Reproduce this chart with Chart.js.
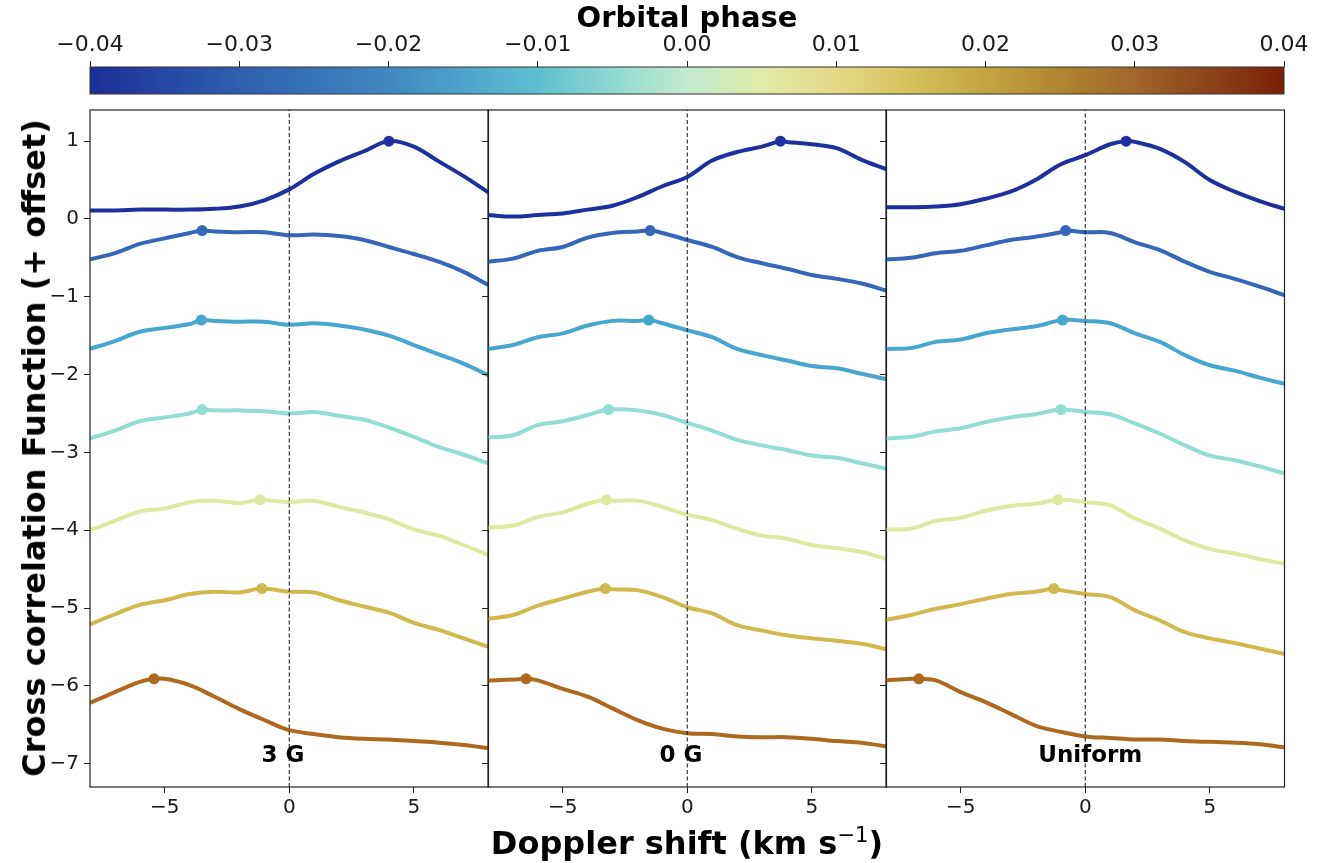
<!DOCTYPE html>
<html>
<head>
<meta charset="utf-8">
<script src="https://cdn.jsdelivr.net/npm/chart.js@4.4.1/dist/chart.umd.min.js"></script>
<style>
  body { margin: 0; background: #fff; width: 1322px; height: 863px; overflow: hidden; position: relative; font-family: "DejaVu Sans", sans-serif; }
  canvas { position: absolute; }
  .title { position: absolute; font-weight: bold; font-size: 32px; color: #000; white-space: nowrap; transform: translate(-50%, -50%); }
  #ytitle { left: 34px; top: 448px; transform: translate(-50%, -50%) rotate(-90deg); }
  #xtitle { left: 687px; top: 842px; }
  sup { font-size: 0.66em; font-weight: normal; vertical-align: 0.55em; }
</style>
</head>
<body>
<canvas id="cbar" width="1322" height="100" style="left:0;top:0"></canvas>
<canvas id="p1" width="494" height="727" style="left:0;top:100px"></canvas>
<canvas id="p2" width="412" height="727" style="left:480px;top:100px"></canvas>
<canvas id="p3" width="412" height="727" style="left:878px;top:100px"></canvas>
<div class="title" id="ytitle">Cross correlation Function (+ offset)</div>
<div class="title" id="xtitle">Doppler shift (km s<sup>−1</sup>)</div>
<script>
// Doppler shift grid (km/s)
const velocity = [-8, -7, -6, -5, -4, -3, -2, -1, 0, 1, 2, 3, 4, 5, 6, 7, 8];
const xTicks = [-5, 0, 5];
const yTicks = [-7, -6, -5, -4, -3, -2, -1, 0, 1];
const yMin = -7.3, yMax = 1.4;

// colorbar
const cbarTicks = [-0.04, -0.03, -0.02, -0.01, 0.0, 0.01, 0.02, 0.03, 0.04];
const cbarPhase = [-0.04, -0.03, -0.02, -0.01, -0.005, 0.0, 0.005, 0.01, 0.015, 0.02, 0.025, 0.03, 0.035, 0.04];
const cbarColors = ['#1b2f96', '#2f5fae', '#3f88c2', '#5ebfd2', '#8fd9d0', '#c2ead0', '#e1eba8', '#e3d986', '#d6c15c', '#c4a441', '#b08531', '#a0662a', '#8c431a', '#7a1f06'];

// one colour per orbital phase (top to bottom)
const lineColors = ['#1d309e', '#3467b8', '#47a6cf', '#92ded5', '#dde9a0', '#d1b84e', '#ad6a1f'];
const peakLevels = [1.0, -0.15, -1.30, -2.45, -3.61, -4.75, -5.91];

// 3 G
const ccf3G = [
  [0.11, 0.11, 0.12, 0.12, 0.12, 0.13, 0.16, 0.24, 0.38, 0.58, 0.74, 0.87, 1.00, 0.93, 0.74, 0.55, 0.34],
  [-0.52, -0.44, -0.32, -0.25, -0.18, -0.16, -0.17, -0.17, -0.21, -0.20, -0.22, -0.27, -0.36, -0.45, -0.55, -0.68, -0.85],
  [-1.67, -1.57, -1.45, -1.40, -1.35, -1.31, -1.32, -1.32, -1.36, -1.34, -1.37, -1.42, -1.50, -1.62, -1.74, -1.86, -2.01],
  [-2.82, -2.72, -2.60, -2.55, -2.50, -2.46, -2.46, -2.47, -2.50, -2.48, -2.53, -2.58, -2.68, -2.80, -2.93, -3.03, -3.14],
  [-4.00, -3.88, -3.76, -3.72, -3.64, -3.62, -3.65, -3.62, -3.64, -3.62, -3.70, -3.77, -3.86, -3.99, -4.07, -4.19, -4.32],
  [-5.21, -5.08, -4.96, -4.90, -4.82, -4.79, -4.80, -4.76, -4.79, -4.80, -4.90, -4.98, -5.06, -5.19, -5.28, -5.39, -5.50],
  [-6.22, -6.08, -5.95, -5.91, -5.99, -6.14, -6.30, -6.44, -6.57, -6.62, -6.66, -6.68, -6.69, -6.71, -6.73, -6.76, -6.80]
];
const peaks3G = [4.0, -3.5, -3.53, -3.5, -1.17, -1.1, -5.43];

// 0 G
const ccf0G = [
  [0.05, 0.03, 0.05, 0.07, 0.12, 0.17, 0.28, 0.42, 0.54, 0.75, 0.86, 0.93, 0.99, 0.96, 0.91, 0.76, 0.64],
  [-0.55, -0.51, -0.41, -0.36, -0.24, -0.18, -0.16, -0.18, -0.27, -0.36, -0.49, -0.57, -0.64, -0.72, -0.77, -0.83, -0.92],
  [-1.67, -1.62, -1.52, -1.47, -1.37, -1.31, -1.31, -1.34, -1.43, -1.52, -1.67, -1.75, -1.82, -1.89, -1.92, -1.99, -2.06],
  [-2.81, -2.78, -2.65, -2.60, -2.52, -2.46, -2.46, -2.52, -2.62, -2.72, -2.84, -2.91, -2.97, -3.04, -3.07, -3.14, -3.21],
  [-3.97, -3.94, -3.83, -3.77, -3.66, -3.62, -3.62, -3.70, -3.80, -3.87, -3.98, -4.07, -4.11, -4.19, -4.23, -4.28, -4.37],
  [-5.14, -5.09, -4.97, -4.88, -4.79, -4.76, -4.77, -4.86, -4.99, -5.07, -5.22, -5.29, -5.35, -5.39, -5.42, -5.46, -5.53],
  [-5.93, -5.92, -5.93, -6.04, -6.14, -6.29, -6.44, -6.55, -6.61, -6.62, -6.65, -6.66, -6.66, -6.68, -6.71, -6.73, -6.78]
];
const peaks0G = [3.74, -1.49, -1.55, -3.16, -3.25, -3.29, -6.47];

// Uniform
const ccfUniform = [
  [0.15, 0.15, 0.16, 0.19, 0.26, 0.35, 0.50, 0.70, 0.82, 0.96, 0.99, 0.90, 0.73, 0.50, 0.35, 0.23, 0.13],
  [-0.52, -0.50, -0.44, -0.41, -0.34, -0.27, -0.23, -0.17, -0.17, -0.18, -0.30, -0.40, -0.55, -0.68, -0.77, -0.87, -0.98],
  [-1.67, -1.66, -1.58, -1.55, -1.47, -1.42, -1.38, -1.32, -1.31, -1.34, -1.47, -1.58, -1.75, -1.88, -1.95, -2.04, -2.12],
  [-2.82, -2.80, -2.73, -2.69, -2.61, -2.55, -2.51, -2.46, -2.48, -2.51, -2.63, -2.76, -2.91, -3.04, -3.10, -3.18, -3.27],
  [-3.99, -3.98, -3.88, -3.84, -3.75, -3.69, -3.66, -3.62, -3.64, -3.68, -3.85, -3.98, -4.13, -4.24, -4.30, -4.37, -4.43],
  [-5.15, -5.09, -5.01, -4.95, -4.88, -4.82, -4.79, -4.77, -4.82, -4.86, -5.03, -5.16, -5.31, -5.39, -5.45, -5.52, -5.59],
  [-5.93, -5.91, -5.93, -6.08, -6.21, -6.36, -6.51, -6.59, -6.65, -6.67, -6.69, -6.69, -6.71, -6.72, -6.73, -6.75, -6.79]
];
const peaksUniform = [1.64, -0.79, -0.91, -0.98, -1.09, -1.26, -6.68];

const tickFont = { family: '"DejaVu Sans"', size: 20 };
const cbarFont = { family: '"DejaVu Sans"', size: 22 };
const tickColor = '#1a1a1a';
const fmt = v => (v < 0 ? '\u2212' : '') + Math.abs(v);

// fixed axis size, no extra label padding so all panels line up
const fixSize = (w, h) => s => {
  if (w !== null) s.width = w;
  if (h !== null) s.height = h;
  s.paddingTop = 0; s.paddingBottom = 0; s.paddingLeft = 0; s.paddingRight = 0;
};

// box around the plot area + the panel label
const framePlugin = {
  id: 'frame',
  afterDatasetsDraw(chart, args, opts) {
    const { ctx, chartArea: a, scales } = chart;
    ctx.save();
    ctx.strokeStyle = '#222';
    ctx.lineWidth = 1.2;
    ctx.strokeRect(a.left, a.top, a.width, a.height);
    if (opts.text) {
      ctx.font = 'bold 23px "DejaVu Sans"';
      ctx.fillStyle = '#000';
      ctx.textAlign = 'center';
      ctx.textBaseline = 'middle';
      ctx.fillText(opts.text, scales.x.getPixelForValue(opts.x), scales.y.getPixelForValue(opts.y));
    }
    ctx.restore();
  }
};

function curvePoints(values, peakX, peakY) {
  const pts = velocity
    .map((v, i) => ({ x: v, y: values[i] }))
    .filter(p => Math.abs(p.x - peakX) > 0.2);
  pts.push({ x: peakX, y: peakY });
  return pts.sort((a, b) => a.x - b.x);
}

function makePanel(id, ccf, peaks, name, labelX, showY) {
  const datasets = [];
  datasets.push({
    data: [{ x: 0, y: yMin }, { x: 0, y: yMax }],
    borderColor: '#222', borderWidth: 1.1, borderDash: [4, 2.5],
    pointRadius: 0, order: 0
  });
  datasets.push({
    data: peaks.map((p, i) => ({ x: p, y: peakLevels[i] })),
    showLine: false, pointRadius: 5.5, pointHoverRadius: 5.5,
    pointBackgroundColor: lineColors, pointBorderWidth: 0, order: 1
  });
  ccf.forEach((vals, i) => {
    datasets.push({
      data: curvePoints(vals, peaks[i], peakLevels[i]),
      borderColor: lineColors[i], borderWidth: 4,
      pointRadius: 0, tension: 0.35, order: 2
    });
  });

  new Chart(document.getElementById(id), {
    type: 'line',
    data: { datasets },
    options: {
      responsive: false,
      animation: false,
      layout: { padding: { top: 10, right: 2, left: 0, bottom: 0 } },
      plugins: {
        legend: { display: false },
        tooltip: { enabled: false },
        frame: { text: name, x: labelX, y: -6.9 }
      },
      scales: {
        x: {
          type: 'linear', min: -8, max: 8,
          afterBuildTicks: s => { s.ticks = xTicks.map(v => ({ value: v })); },
          afterFit: fixSize(null, 40),
          ticks: { font: tickFont, color: tickColor, padding: 3, maxRotation: 0, callback: fmt },
          grid: { drawOnChartArea: false, tickLength: 6, color: '#222', tickColor: '#222' },
          border: { display: false }
        },
        y: {
          type: 'linear', min: yMin, max: yMax,
          afterBuildTicks: s => { s.ticks = yTicks.map(v => ({ value: v })); },
          afterFit: fixSize(showY ? 90 : 8, null),
          ticks: { display: showY, font: tickFont, color: tickColor, padding: 5, callback: fmt },
          grid: { drawOnChartArea: false, tickLength: 6, color: '#222', tickColor: '#222' },
          border: { display: false }
        }
      }
    },
    plugins: [framePlugin]
  });
}

makePanel('p1', ccf3G, peaks3G, '3 G', -0.25, true);
makePanel('p2', ccf0G, peaks0G, '0 G', -0.25, false);
makePanel('p3', ccfUniform, peaksUniform, 'Uniform', 0.2, false);

// colorbar drawn in the plot area of a top-axis chart
const cbarPlugin = {
  id: 'cbarFill',
  beforeDatasetsDraw(chart) {
    const { ctx, chartArea: a, scales: { x } } = chart;
    const g = ctx.createLinearGradient(a.left, 0, a.right, 0);
    cbarPhase.forEach((p, i) => g.addColorStop((x.getPixelForValue(p) - a.left) / a.width, cbarColors[i]));
    ctx.save();
    ctx.fillStyle = g;
    ctx.fillRect(a.left, a.top, a.width, a.height);
    ctx.strokeStyle = '#333';
    ctx.lineWidth = 1;
    ctx.strokeRect(a.left, a.top, a.width, a.height);
    ctx.restore();
  }
};

new Chart(document.getElementById('cbar'), {
  type: 'line',
  data: { datasets: [{ data: [] }] },
  options: {
    responsive: false,
    animation: false,
    layout: { padding: { left: 90, right: 38, top: 0, bottom: 6 } },
    plugins: { legend: { display: false }, tooltip: { enabled: false } },
    scales: {
      x: {
        type: 'linear', position: 'top', min: -0.04, max: 0.04,
        afterBuildTicks: s => { s.ticks = cbarTicks.map(v => ({ value: v })); },
        afterFit: fixSize(null, 67),
        title: { display: true, text: 'Orbital phase', color: '#000', font: { family: '"DejaVu Sans"', size: 29, weight: 'bold' }, padding: { top: 2, bottom: 0 } },
        ticks: { font: cbarFont, color: tickColor, padding: 3, maxRotation: 0, callback: v => (v < 0 ? '\u2212' : '') + Math.abs(v).toFixed(2) },
        grid: { drawOnChartArea: false, tickLength: 6, color: '#222', tickColor: '#222' },
        border: { display: false }
      },
      y: { display: false, min: 0, max: 1 }
    }
  },
  plugins: [cbarPlugin]
});
</script>
</body>
</html>
